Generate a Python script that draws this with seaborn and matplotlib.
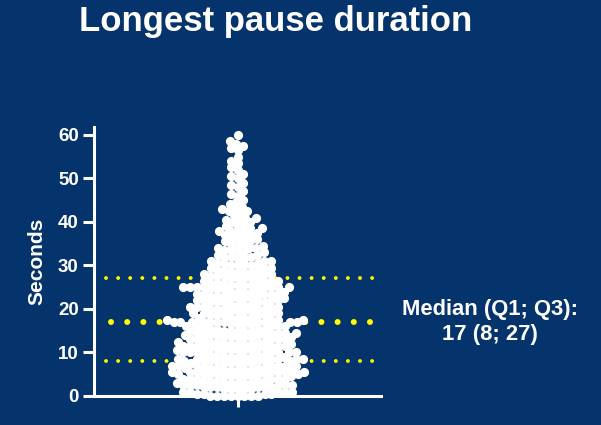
import numpy as np
import pandas as pd
import seaborn as sns
import matplotlib
matplotlib.use("Agg")
import matplotlib.pyplot as plt

# Longest pause duration, read in half-second steps
seconds = [
    0.0, 0.5, 1.0, 1.5, 2.0, 2.5, 3.0, 3.5, 4.0, 4.5,
    5.0, 5.5, 6.0, 6.5, 7.0, 7.5, 8.0, 8.5, 9.0, 9.5,
    10.0, 10.5, 11.0, 11.5, 12.0, 12.5, 13.0, 13.5, 14.0, 14.5,
    15.0, 15.5, 16.0, 16.5, 17.0, 17.5, 18.0, 18.5, 19.0, 19.5,
    20.0, 20.5, 21.0, 21.5, 22.0, 22.5, 23.0, 23.5, 24.0, 24.5,
    25.0, 25.5, 26.0, 26.5, 27.0, 27.5, 28.0, 28.5, 29.0, 29.5,
    30.0, 30.5, 31.0, 31.5, 32.0, 32.5, 33.0, 33.5, 34.0, 34.5,
    35.0, 35.5, 36.0, 36.5, 37.0, 37.5, 38.0, 38.5, 39.0, 39.5,
    40.0, 40.5, 41.0, 41.5, 42.0, 42.5, 43.0, 43.5, 44.0, 44.5,
    45.0, 45.5, 46.0, 46.5, 47.0, 47.5, 48.0, 48.5, 49.0, 49.5,
    50.0, 50.5, 51.0, 51.5, 52.0, 52.5, 53.0, 53.5, 54.0, 54.5,
    55.0, 55.5, 56.0, 56.5, 57.0, 57.5, 58.0, 58.5, 59.0, 59.5,
    60.0,
]
# number of participants at each of the values above
counts = [
    8, 4, 5, 5, 6, 6, 6, 5, 6, 6,
    7, 7, 6, 6, 7, 6, 7, 6, 6, 5,
    7, 6, 5, 6, 6, 6, 5, 6, 6, 5,
    6, 5, 5, 4, 11, 4, 5, 5, 4, 4,
    5, 5, 4, 5, 4, 5, 4, 5, 5, 4,
    8, 4, 4, 4, 4, 4, 3, 4, 3, 3,
    4, 3, 3, 2, 3, 2, 3, 2, 3, 2,
    2, 2, 2, 2, 2, 2, 3, 2, 2, 1,
    2, 2, 2, 1, 1, 2, 2, 1, 1, 1,
    1, 0, 1, 1, 1, 0, 1, 1, 1, 0,
    1, 1, 1, 0, 1, 1, 0, 1, 1, 0,
    1, 0, 0, 1, 1, 1, 1, 1, 0, 0,
    1,
]
quartiles = [8, 17, 27]          # Q1, median, Q3
y_ticks = [0, 10, 20, 30, 40, 50, 60]

title = "Longest pause duration"
ylabel = "Seconds"
summary = "Median (Q1; Q3):\n17 (8; 27)"

BG = "#05336B"
YEL = "#FFFF00"

df = pd.DataFrame({"group": "all",
                   "seconds": np.repeat(seconds, counts)})

sns.set_style("white")
plt.rcParams["font.family"] = ["Liberation Sans", "DejaVu Sans"]
plt.rcParams["font.weight"] = "bold"

fig = plt.figure(figsize=(6.01, 4.25), dpi=100, facecolor=BG)
ax = fig.add_axes([94 / 601, 1 - 396 / 425, 287 / 601, 269 / 425])
ax.set_facecolor(BG)

# quartile dotted lines (drawn beneath the points)
for q in quartiles:
    if q == quartiles[1]:
        ax.axhline(q, xmin=0.058, xmax=0.972, color=YEL, lw=4.3,
                   linestyle=(0, (0.01, 2.7)), dash_capstyle="round", zorder=1)
    else:
        ax.axhline(q, xmin=0.042, xmax=0.972, color=YEL, lw=2.8,
                   linestyle=(0, (0.01, 3.1)), dash_capstyle="round", zorder=1)

# swarm layout computed with compact markers, then shown with larger
# (overlapping) dots like the original scatter
sns.swarmplot(data=df, x="group", y="seconds", color="white", size=4.7,
              linewidth=0, ax=ax, zorder=3)
ax.set_xlim(-0.5, 0.5)
ax.set_ylim(0, 61.8)
fig.canvas.draw()
for c in ax.collections:
    if "draw" in c.__dict__:
        del c.draw
    c.set_sizes([6.6 ** 2])
    c.set_clip_on(False)

ax.set_yticks(y_ticks)
ax.set_xticks([0])
ax.set_xticklabels([""])
ax.set_xlabel("")
ax.set_ylabel(ylabel, color="white", fontsize=15, fontweight="bold")
ax.yaxis.set_label_coords(-0.165, 0.5)

for side in ["top", "right"]:
    ax.spines[side].set_visible(False)
for side in ["left", "bottom"]:
    ax.spines[side].set_color("white")
    ax.spines[side].set_linewidth(2.2)
ax.tick_params(axis="both", colors="white", width=2.2, length=8,
               direction="out", labelsize=13.5, pad=3)
ax.tick_params(left=True, bottom=True)
for lab in ax.get_yticklabels():
    lab.set_fontweight("bold")

fig.text(276 / 601, 1 - 22 / 425, title, color="white", fontsize=25,
         fontweight="bold", ha="center", va="center")
fig.text(490 / 601, 1 - 322 / 425, summary, color="white", fontsize=15.8,
         fontweight="bold", ha="center", va="center", multialignment="center",
         linespacing=1.2)

fig.savefig("out.png", dpi=100, facecolor=BG)
